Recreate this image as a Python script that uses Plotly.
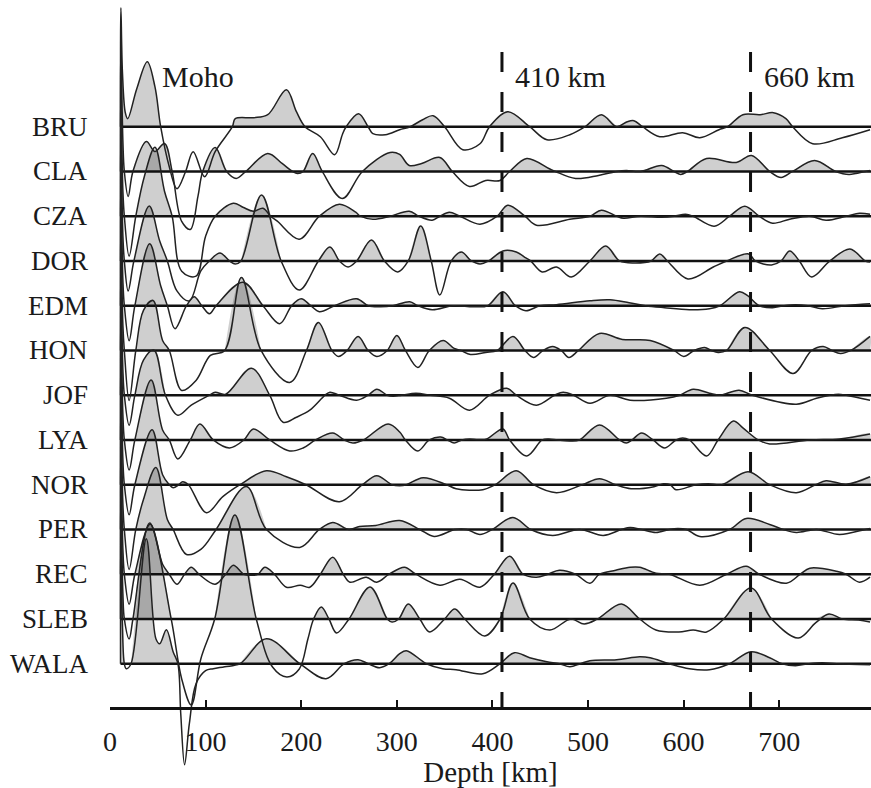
import plotly.graph_objects as go

# ---------------- data (depth [km], amplitude) ----------------
stations = ["BRU", "CLA", "CZA", "DOR", "EDM", "HON", "JOF", "LYA", "NOR", "PER", "REC", "SLEB", "WALA"]

BRU = [(11,0),(11.4,119),(13,55),(16,14),(18.5,8),(28,38),(39,65),(47,40),(53,0),(62,-40),(70,-62),(79,-45),(87,-25),(99,-50),(110,-25),(128,0),(131,8),(150,9),(165,12),(184.5,37),(195,15),(204,0),(220,-10),(235,-28),(243,-8),(247,0),(260,13),(270,0),(275,-7),(288,-8),(303,-3),(314,0),(327,7),(338,11),(350,0),(369,-23),(387,-17),(397,0),(416,15),(439,0),(457,-13),(481,-8),(497,0),(514,12),(530,0),(541,5),(548,6),(557,0),(575,-10),(599,-6),(617,-11),(637,-3),(646,0),(662,12),(680,12),(694,14),(707,8),(714,0),(735,-17),(766,-11),(795,-3)]
CLA = [(11,0),(11.4,119),(13.5,30),(15,0),(19,-25),(24,0),(38,30),(47,20),(57,28),(65,0),(75,-50),(84,-58),(92,-25),(97,0),(110,24),(122,0),(132,-7),(142,0),(165,18),(180,8),(191,0),(196,-2),(202,0),(212,18),(222,0),(243,-27),(264,0),(293,19),(303,17),(313,6),(326,8),(345,14),(358,0),(376,-15),(393,-9),(408,-9),(418,0),(436,13),(459,3),(466,0),(487,-7),(511,-4),(530,0),(540,1),(555,0),(577,6),(590,0),(597,-3),(604,0),(624,13),(655,9),(671,16),(690,0),(702,-6),(714,0),(737,11),(759,0),(773,-3),(790,0),(795,1)]
CZA = [(11,0),(11.4,119),(13.5,25),(15,0),(20,-40),(27,0),(36,40),(47,69),(57,25),(65,0),(75,-55),(90,-60),(100,-20),(110,0),(129,13),(139,9),(150,5),(160,8),(168,0),(175,-5),(198,-23),(219,0),(240,12),(257,4),(262,0),(275,-3),(293,0),(313,5),(323,0),(337,-4),(345,0),(355,4),(366,0),(387,-8),(405,0),(416,11),(434,0),(446,-9),(481,-3),(502,0),(514,6),(530,0),(537,-2),(555,0),(577,-1),(590,0),(602,2),(610,0),(632,-10),(648,0),(664,10),(679,0),(693,-7),(711,-3),(732,0),(749,-4),(770,0),(784,3),(795,2)]
DOR = [(11,0),(11.4,119),(13.5,25),(15,0),(19,-30),(25,0),(41,55),(52,20),(60,0),(70,-30),(83,-40),(95,-10),(104,0),(115,8),(125,0),(131,-3),(137,0),(158.5,66),(179,0),(198,-29),(218,0),(230,14),(240,0),(249,-6),(258,0),(273.5,21),(287,0),(301,-11),(312,0),(325,35),(336,0),(345,-34),(357,0),(367.5,9),(378,0),(387,-3),(396,0),(411,10),(425,9),(435,3),(440,0),(452,-11),(467,-6),(482.5,-16),(502,0),(518.5,15),(533,0),(549,-2),(566,0),(575,7),(583,0),(604.5,-18),(631,-6),(645,0),(668,7),(675,0),(692,-4),(702,0),(711,10),(721,0),(734,-16),(753,0),(774,12),(790,0),(795,-1)]
EDM = [(11,0),(11.4,119),(13.5,25),(15,0),(20,-35),(26,0),(41.5,62),(53,20),(60,0),(68,-23),(80,0),(88,9),(96,0),(104,-8),(111,0),(139,23.5),(160,0),(177.5,-18),(190,0),(200,7),(210,0),(219,-6),(235,0),(258,7),(270,0),(283,-1),(296,0),(313.5,4),(322,0),(337,-4),(359,0),(380,-1),(395,0),(411,14),(424,0),(435,-5),(450,0),(467,1),(502,5),(523,6),(543,3),(560,0),(580,-2),(606,-4),(627,-3),(638,0),(658.5,14),(667,10),(679,0),(693,-2),(705,0),(717,1),(730,0),(745,-3),(769,0),(795,2)]
HON = [(11,0),(11.4,119),(13.5,25),(15,0),(20,-50),(27,0),(35,40),(45,50),(55,10),(62,0),(75,-40),(90,-30),(105,-5),(120,0),(137.5,73),(158,0),(188,-32),(205.5,0),(218,28),(232,0),(239,-6),(248,0),(259.5,14),(270,0),(279,-6),(290,0),(300,15),(309,0),(322,-17),(334,0),(348.5,10),(360,2),(367,0),(377,-4),(393,-2),(405,0),(421.5,14),(434,0),(443,-7),(453,0),(463,4),(472,0),(480,-7),(490,0),(512,17),(536,11),(565,10),(590,0),(600,-6),(611,0),(622,3),(629,0),(636,-2),(645,0),(664,23),(690,0),(714.5,-23),(734,0),(746,4),(755,0),(764,-3),(775,0),(795,14)]
JOF = [(11,0),(11.4,119),(13.5,25),(15,0),(20,-30),(26,0),(35,35),(46,45),(58,0),(71,-20),(85,-10),(104,0),(110,3),(121,1),(148,27),(167,0),(181,-27),(195,-22),(209,-15),(225,0),(230,3),(240,0),(258,-5),(270,0),(279,6),(290,0),(296,-1),(305,0),(320,2),(335,0),(355,-3),(376,-15),(397,0),(415,7),(425,0),(446,-10),(465,0),(474,3),(485,0),(502,-8),(523,0),(544,-5),(582,-3),(596,0),(610,6),(627,2),(638,0),(658,5),(672,0),(718,-9),(739,-3),(753,0),(762,1),(770,0),(795,-5)]
LYA = [(11,0),(11.4,119),(13.5,25),(15,0),(20,-30),(26,0),(43,60),(55,10),(62,0),(71,-19),(84,0),(94,16),(108,0),(125,-8),(140,0),(150,11),(167,0),(188,-11),(202,-8),(215,0),(233,7),(245,0),(254,-3),(265,0),(291,16),(303,8),(309,0),(322,-11),(334,0),(346,3),(353,0),(360,-3),(368,0),(376,1),(385,0.5),(394,1),(411,11),(418,0),(436,-16),(452,0),(459,1),(468,0),(481,-1),(491,0),(512,15),(533,0),(540,-3),(546,0),(556,7),(568,0),(580,-8),(592,0),(599,2),(606,0),(624,-16),(636,0),(652,19),(662,12),(678,0),(690,-4),(732,0),(763,1),(795,6)]
NOR = [(11,0),(11.4,119),(13.5,25),(15,0),(20,-30),(26,0),(44,55),(55,10),(62,0),(66,-3),(72,0),(76,3),(82,0),(101,-28),(118,-12),(136,0),(163.5,14),(184.5,8),(205,0),(240,-17),(264,0),(279,9),(295,0),(303,-1),(310,0),(327.5,7),(352,0),(362,-4),(390,-5),(403,0),(425,14),(443,0),(467,-8),(494,0),(512,6),(529,0),(545,-4),(569,-2),(579,1),(586,0),(592,-5),(613,0),(626,1),(640,0),(667.5,13),(690,0),(718,-8),(738,0),(749,4),(770,0.5),(795,8)]
PER = [(11,0),(11.4,119),(13.5,25),(15,0),(20,-40),(27,0),(35,30),(48,62),(60,10),(66,0),(80,-25),(95,-20),(111,0),(142.6,43),(163.6,0),(198.5,-18),(219,0),(233,7),(250,0),(261,3),(278,4),(303,9),(324,0),(339,-7),(361,0),(373,0),(387,-5),(400,0),(421.5,12),(440,0),(463,-6),(491,0),(516,-6),(535,0),(544,2),(556,0),(571,-3),(585,0),(594,1),(603,0),(617,-7),(648,0),(665.5,11),(690,5),(704,0),(718,-3),(739,0),(763,-5),(790,0),(795,1)]
REC = [(11,0),(11.4,119),(13.5,25),(15,0),(20,-30),(26,0),(42,50),(55,10),(62,0),(70,-10),(78,0),(85,7),(93,0),(110,-10),(121,0),(129,9),(140,0),(150,-1),(155,0),(162,7),(172,0),(184.5,-13),(199,-11),(209,-13),(220,0),(233,17),(244,0),(251,-8),(268,-3),(279,-8),(292,0),(308,7),(320,0),(345,-11),(366,-5),(387,-13),(402,0),(418,18),(432,0),(446,-3),(458,0),(470,4),(487,0),(502,-9),(512,0),(529,4),(544,7),(554,7),(571,1),(585,0),(617,-11),(645,0),(665.5,8),(679,0),(707.5,-9),(722,0),(732,6),(760,3),(770,0),(784,-8),(795,-3)]
SLEB = [(11,0),(11.4,119),(13.5,25),(15,0),(20,-20),(24,0),(41.5,96),(64,0),(75,-60),(85,-86),(95,-40),(109.5,0),(130.6,104),(153,0),(170,-48),(185,-58),(198,-50),(207,-20),(213,0),(221,12),(229,0),(237,-14),(250,0),(272,32),(290,0),(295,-3),(302,0),(312,15),(324,0),(334.5,-13),(350,0),(360.5,10),(371,0),(392,-17),(408,0),(421.5,36),(439,0),(460,-11),(482,0),(496,-5),(510,0),(535,15),(554,0),(571,-11),(595,-13),(610,-11),(624,-13),(642,0),(670.5,31),(692,0),(720,-19),(738,-4),(752,5),(766,0),(783,-1),(795,-3)]
WALA = [(11,0),(11.4,119),(13,40),(15,0),(17,-5),(22,0),(38,125),(48,25),(52,20),(59,34),(66,12),(71,0),(74,-50),(78,-101),(83,-60),(90,-20),(100,-7),(108,-5),(120,-3),(136,0),(163.6,25),(198.5,0),(226,-15),(245,0),(259.5,4),(270,0),(282,-4),(292,0),(303,10),(310,13),(331,0),(348,-5),(362,-6),(390,-10),(408,0),(423,11),(439,6),(457,2),(470,0),(481,-3),(492,0),(502,3),(530,4),(554,7),(565,6),(585,0),(606,-5),(627,-6),(648,0),(670.5,12),(690,6),(703,0),(717,-2),(731,0),(745,1),(760,0),(795,-1)]

records = [BRU, CLA, CZA, DOR, EDM, HON, JOF, LYA, NOR, PER, REC, SLEB, WALA]
marker_depths = [410, 670]
marker_labels = ["410 km", "660 km"]
tick_values = [0, 100, 200, 300, 400, 500, 600, 700]

# ---------------- layout constants ----------------
W, H = 871, 788
SPACING = 44.75          # vertical distance between traces (in px-units of y axis)
TOP = H - 126.7          # baseline of the first trace
X_MAX = 796
FONT = "Liberation Serif"
INK = "#1a1a1a"

fig = go.Figure()
offsets = [TOP - SPACING * i for i in range(len(records))]

# positive lobes (filled)
for rec, off in zip(records, offsets):
    fx, fy, lobe = [], [], []
    prev = None
    for d, a in rec:
        if a > 0:
            if not lobe:
                lobe.append((prev[0] if prev is not None else d, 0))
            lobe.append((d, a))
        else:
            if lobe:
                lobe.append((d if a == 0 else lobe[-1][0], 0))
                fx += [p[0] for p in lobe] + [None]
                fy += [off + p[1] for p in lobe] + [None]
                lobe = []
        prev = (d, a)
    if lobe:
        lobe.append((lobe[-1][0], 0))
        fx += [p[0] for p in lobe]
        fy += [off + p[1] for p in lobe]
    fig.add_trace(go.Scatter(x=fx, y=fy, mode="lines", fill="toself",
                             fillcolor="rgba(0,0,0,0.19)",
                             line=dict(width=0, shape="spline", smoothing=1),
                             hoverinfo="skip", showlegend=False))

# baselines
for rec, off in zip(records, offsets):
    fig.add_trace(go.Scatter(x=[rec[0][0], X_MAX], y=[off, off], mode="lines",
                             line=dict(color="#111", width=2.6),
                             hoverinfo="skip", showlegend=False))

# traces
for name, rec, off in zip(stations, records, offsets):
    fig.add_trace(go.Scatter(x=[p[0] for p in rec], y=[off + p[1] for p in rec],
                             mode="lines", name=name,
                             line=dict(color="#222", width=1.5, shape="spline", smoothing=1),
                             showlegend=False))

AXIS_Y = H - 708   # y position of the depth axis (px-units)

shapes = []
for d in marker_depths:
    shapes.append(dict(type="line", xref="x", yref="y", x0=d, x1=d, y0=H - 52, y1=AXIS_Y,
                       line=dict(color="#111", width=3, dash="20px,20px"), layer="above"))

annotations = []
for name, off in zip(stations, offsets):
    annotations.append(dict(xref="paper", yref="y", x=-20 / 761, y=off, text=name,
                            showarrow=False, xanchor="right", yanchor="middle",
                            font=dict(family=FONT, size=27, color=INK)))
annotations.append(dict(xref="x", yref="y", x=52, y=H - 76, text="Moho", showarrow=False,
                        xanchor="left", yanchor="middle", font=dict(family=FONT, size=30, color=INK)))
for d, lab in zip(marker_depths, marker_labels):
    annotations.append(dict(xref="x", yref="y", x=d + 12, y=H - 76, text=lab, showarrow=False,
                            xanchor="left", yanchor="middle", font=dict(family=FONT, size=30, color=INK)))

fig.update_layout(
    width=W, height=H,
    margin=dict(l=110, r=0, t=0, b=0),
    paper_bgcolor="white", plot_bgcolor="white",
    shapes=shapes, annotations=annotations,
    xaxis=dict(range=[0, X_MAX], anchor="free", position=AXIS_Y / H,
               showline=True, linecolor="#111", linewidth=2.5,
               ticks="inside", ticklen=7, tickwidth=1.5, tickcolor="#111",
               tickvals=tick_values, ticktext=[str(v) for v in tick_values],
               tickfont=dict(family=FONT, size=28, color=INK), ticklabelstandoff=8,
               showgrid=False, zeroline=False,
               title=dict(text="Depth [km]", font=dict(family=FONT, size=29, color=INK), standoff=2)),
    yaxis=dict(range=[0, H], visible=False, fixedrange=True),
)

fig.write_html("out.html")
